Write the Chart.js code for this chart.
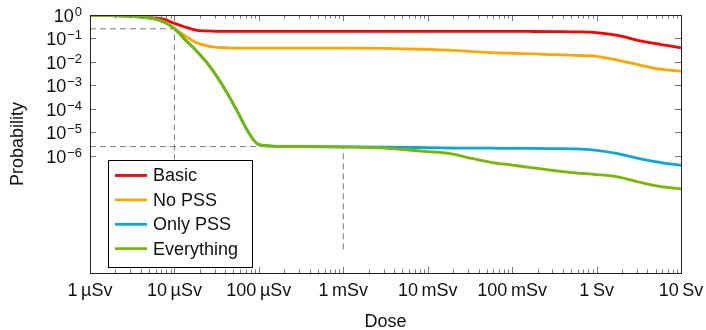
<!DOCTYPE html>
<html>
<head>
<meta charset="utf-8">
<script src="https://cdn.jsdelivr.net/npm/chart.js@4.4.1/dist/chart.umd.min.js"></script>
<style>
  html, body { margin: 0; padding: 0; background: #fff; }
  #wrap { width: 706px; height: 330px; position: relative; }
</style>
</head>
<body>
<div id="wrap"><canvas id="chart"></canvas></div>
<script>
// dose in Sv
const doses = [1e-6, 1.78e-6, 3.16e-6, 5.62e-6, 7.5e-6, 1e-5, 1.33e-5, 1.78e-5, 2.37e-5, 3.16e-5,
  4.22e-5, 5.62e-5, 7.5e-5, 1e-4, 1.78e-4, 3.16e-4, 1e-3, 3.16e-3, 5.62e-3, 1e-2,
  1.78e-2, 3.16e-2, 5.62e-2, 0.1, 0.178, 0.316, 0.562, 1, 1.78, 3.16, 5.62, 10];

const basic = [0.933, 0.933, 0.891, 0.759, 0.661, 0.437, 0.309, 0.229, 0.209, 0.200,
  0.200, 0.200, 0.200, 0.200, 0.200, 0.200, 0.200, 0.200, 0.200, 0.200,
  0.200, 0.200, 0.200, 0.200, 0.198, 0.195, 0.191, 0.178, 0.135, 0.0813, 0.0562, 0.0398];

const noPss = [0.933, 0.933, 0.891, 0.708, 0.525, 0.263, 0.132, 0.0692, 0.0490, 0.0417,
  0.0398, 0.0389, 0.0389, 0.0389, 0.0389, 0.0389, 0.0389, 0.0380, 0.0363, 0.0339,
  0.0316, 0.0282, 0.0251, 0.0234, 0.0219, 0.0204, 0.0191, 0.0174, 0.0120, 0.00741, 0.00490, 0.00398];

const onlyPss = [0.933, 0.933, 0.871, 0.692, 0.501, 0.263, 0.0912, 0.0324, 0.0102, 0.00251,
  4.68e-4, 7.24e-5, 1.02e-5, 2.95e-6, 2.51e-6, 2.45e-6, 2.40e-6, 2.34e-6, 2.29e-6, 2.19e-6,
  2.14e-6, 2.09e-6, 2.09e-6, 2.04e-6, 2.04e-6, 2.00e-6, 1.95e-6, 1.70e-6, 1.23e-6, 7.59e-7, 5.25e-7, 3.89e-7];

const everything = [0.933, 0.933, 0.871, 0.692, 0.501, 0.263, 0.0912, 0.0324, 0.0102, 0.00251,
  4.68e-4, 7.24e-5, 1.02e-5, 2.95e-6, 2.51e-6, 2.45e-6, 2.40e-6, 2.09e-6, 1.78e-6, 1.51e-6,
  1.26e-6, 7.94e-7, 5.25e-7, 3.98e-7, 3.02e-7, 2.34e-7, 1.86e-7, 1.58e-7, 1.26e-7, 7.59e-8, 4.90e-8, 3.89e-8];

// dashed guide lines
const guide1Dose = [1e-6, 1e-5, 1e-5];
const guide1Prob = [0.257, 0.257, 1e-10];
const guide2Dose = [1e-6, 1e-3, 1e-3];
const guide2Prob = [2.45e-6, 2.45e-6, 1e-10];

const xTickValues = [1e-6, 1e-5, 1e-4, 1e-3, 1e-2, 1e-1, 1, 10];
const xTickLabels = ['1\u2009µSv', '10\u2009µSv', '100\u2009µSv', '1\u2009mSv', '10\u2009mSv', '100\u2009mSv', '1\u2009Sv', '10\u2009Sv'];
const yTickValues = [1, 1e-1, 1e-2, 1e-3, 1e-4, 1e-5, 1e-6];
const yTickExponents = ['0', '\u22121', '\u22122', '\u22123', '\u22124', '\u22125', '\u22126'];

const FONT = '"Liberation Sans", Arial, sans-serif';

const pts = (xs, ys) => xs.map((x, i) => ({ x: x, y: ys[i] }));

function series(label, values, color, order) {
  return {
    label, data: pts(doses, values), borderColor: color, backgroundColor: color,
    borderWidth: 2.8, pointRadius: 0, cubicInterpolationMode: 'monotone', order, inLegend: true
  };
}
function guide(xs, ys) {
  return {
    data: pts(xs, ys), borderColor: '#7a7a7a', borderWidth: 1, borderDash: [6, 4],
    pointRadius: 0, tension: 0, order: 10, inLegend: false
  };
}

// frame, inward ticks, y labels with superscripts, legend
const decor = {
  id: 'decor',
  afterDraw(chart) {
    const { ctx, chartArea: a, scales: { x, y } } = chart;
    ctx.save();
    ctx.strokeStyle = '#777';
    ctx.lineWidth = 1;
    ctx.beginPath();
    for (let e = -6; e <= 1; e++) {
      for (let m = 1; m <= 9; m++) {
        const v = m * Math.pow(10, e);
        if (v > 10.0001) break;
        const px = Math.round(x.getPixelForValue(v)) + 0.5;
        const len = m === 1 ? 6 : 3.5;
        ctx.moveTo(px, a.bottom); ctx.lineTo(px, a.bottom - len);
        ctx.moveTo(px, a.top); ctx.lineTo(px, a.top + len);
      }
    }
    yTickValues.forEach(v => {
      const py = Math.round(y.getPixelForValue(v)) + 0.5;
      ctx.moveTo(a.left, py); ctx.lineTo(a.left + 6, py);
      ctx.moveTo(a.right, py); ctx.lineTo(a.right - 6, py);
    });
    ctx.stroke();

    ctx.strokeStyle = '#222';
    ctx.strokeRect(Math.round(a.left) + 0.5, Math.round(a.top) + 0.5,
      Math.round(a.right - a.left), Math.round(a.bottom - a.top));

    // y tick labels 10^n
    ctx.fillStyle = '#111';
    ctx.textBaseline = 'alphabetic';
    yTickValues.forEach((v, i) => {
      const py = y.getPixelForValue(v);
      ctx.font = '13px ' + FONT;
      const ew = ctx.measureText(yTickExponents[i]).width;
      const right = a.left - 8;
      ctx.textAlign = 'right';
      ctx.fillText(yTickExponents[i], right, py + 1);
      ctx.font = '18px ' + FONT;
      ctx.fillText('10', right - ew - 1, py + 7);
    });

    // legend
    const lx = a.left + 18, ly = a.top + 144.5, lw = 144, lh = 107;
    ctx.fillStyle = '#fff';
    ctx.fillRect(lx, ly, lw, lh);
    ctx.strokeStyle = '#000';
    ctx.strokeRect(Math.round(lx) + 0.5, Math.round(ly) + 0.5, lw, lh);
    ctx.font = '18px ' + FONT;
    ctx.textAlign = 'left';
    ctx.textBaseline = 'middle';
    let row = 0;
    chart.data.datasets.forEach(ds => {
      if (!ds.inLegend) return;
      const cy = ly + 16 + row * 24.4;
      ctx.strokeStyle = ds.borderColor;
      ctx.lineWidth = 2.8;
      ctx.beginPath();
      ctx.moveTo(lx + 7, cy); ctx.lineTo(lx + 39, cy);
      ctx.stroke();
      ctx.fillStyle = '#111';
      ctx.fillText(ds.label, lx + 45, cy + 1);
      row++;
    });
    ctx.restore();
  }
};

new Chart(document.getElementById('chart'), {
  type: 'line',
  data: {
    datasets: [
      series('Basic', basic, '#ff0000', 3),
      series('No PSS', noPss, '#ffa500', 2),
      series('Only PSS', onlyPss, '#0aa8d8', 1),
      series('Everything', everything, '#78b800', 0),
      guide(guide1Dose, guide1Prob),
      guide(guide2Dose, guide2Prob)
    ]
  },
  options: {
    responsive: true,
    maintainAspectRatio: false,
    animation: false,
    events: [],
    layout: { padding: { top: 15, right: 25, bottom: -3, left: 0 } },
    plugins: { legend: { display: false }, tooltip: { enabled: false } },
    scales: {
      x: {
        type: 'logarithmic', min: 1e-6, max: 10,
        afterBuildTicks: s => { s.ticks = xTickValues.map(v => ({ value: v })); },
        afterFit: s => { s.height = 60; s.paddingLeft = 0; s.paddingRight = 0; },
        grid: { display: false, drawTicks: false },
        border: { display: false },
        ticks: {
          autoSkip: false, maxRotation: 0, padding: 7, color: '#111',
          font: { family: FONT, size: 18 },
          callback: (v, i) => xTickLabels[i]
        },
        title: { display: true, text: 'Dose', color: '#111', font: { family: FONT, size: 18 }, padding: 0 }
      },
      y: {
        type: 'logarithmic', min: 1e-11, max: 1,
        afterBuildTicks: s => { s.ticks = yTickValues.map(v => ({ value: v })); },
        afterFit: s => { s.width = 90; s.paddingTop = 0; s.paddingBottom = 0; },
        grid: { display: false, drawTicks: false },
        border: { display: false },
        ticks: { display: false },
        title: { display: true, text: 'Probability', color: '#111', font: { family: FONT, size: 18 }, padding: { top: 7, bottom: 0 } }
      }
    }
  },
  plugins: [decor]
});
</script>
</body>
</html>
